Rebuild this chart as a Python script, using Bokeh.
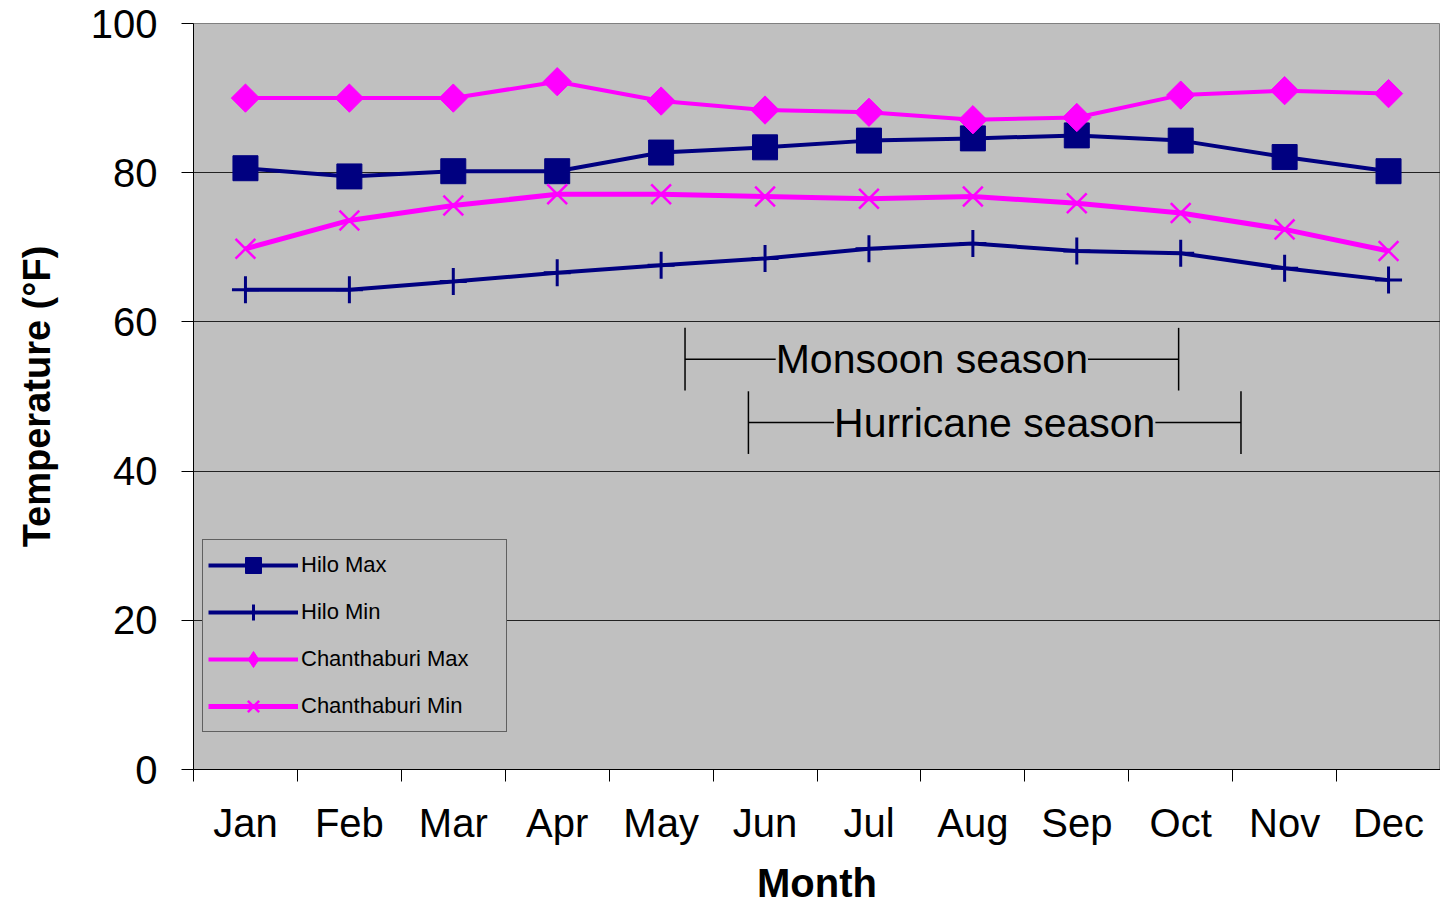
import numpy as np
from bokeh.plotting import figure
from bokeh.models import Range1d, FixedTicker, Legend, LegendItem, ColumnDataSource
from bokeh.core.properties import value
from bokeh.embed import file_html
from bokeh.resources import INLINE

months = ["Jan", "Feb", "Mar", "Apr", "May", "Jun", "Jul", "Aug", "Sep", "Oct", "Nov", "Dec"]
hilo_max = [80.6, 79.5, 80.2, 80.2, 82.7, 83.4, 84.3, 84.6, 85.0, 84.3, 82.1, 80.2]
hilo_min = [64.3, 64.3, 65.4, 66.6, 67.6, 68.5, 69.8, 70.5, 69.5, 69.2, 67.2, 65.6]
chan_max = [90.0, 90.0, 90.0, 92.2, 89.6, 88.4, 88.1, 87.1, 87.4, 90.4, 91.0, 90.6]
chan_min = [69.8, 73.6, 75.6, 77.1, 77.1, 76.8, 76.5, 76.8, 75.9, 74.6, 72.4, 69.5]

season_names = ["Monsoon season", "Hurricane season"]
season_start = [5.23, 5.84]
season_end = [9.98, 10.58]
season_level = [55.0, 46.5]

y_ticks = [0, 20, 40, 60, 80, 100]

FONT = "Liberation Sans"
NAVY = "#000080"
MAGENTA = "#FF00FF"
BG = "#C0C0C0"

x = list(range(1, len(months) + 1))

p = figure(width=1440, height=907, x_range=Range1d(0.5, 12.5), y_range=Range1d(0, 100),
           output_backend="svg", toolbar_location=None,
           min_border_left=193, min_border_right=0, min_border_top=23, min_border_bottom=138,
           background_fill_color=BG, border_fill_color="white",
           outline_line_color="#808080", outline_line_width=1)

# axes
p.xaxis.ticker = FixedTicker(ticks=x, minor_ticks=[0.5 + i for i in range(len(months) + 1)])
p.xaxis.major_label_overrides = {i: m for i, m in zip(x, months)}
p.xaxis.major_tick_out = 0
p.xaxis.major_tick_in = 0
p.xaxis.minor_tick_out = 12
p.xaxis.minor_tick_in = 0
p.xaxis.minor_tick_line_color = "black"
p.xaxis.axis_line_color = "black"
p.xaxis.major_label_standoff = 19
p.xaxis.major_label_text_font = FONT
p.xaxis.major_label_text_font_size = "40px"
p.xaxis.major_label_text_color = "black"
p.xaxis.axis_label = "Month"
p.xaxis.axis_label_text_font = FONT
p.xaxis.axis_label_text_font_style = "bold"
p.xaxis.axis_label_text_font_size = "40px"
p.xaxis.axis_label_text_color = "black"
p.xaxis.axis_label_standoff = 13

p.yaxis.ticker = FixedTicker(ticks=y_ticks, minor_ticks=[])
p.yaxis.major_tick_out = 12
p.yaxis.major_tick_in = 0
p.yaxis.major_tick_line_color = "black"
p.yaxis.axis_line_color = "black"
p.yaxis.major_label_standoff = 24
p.yaxis.major_label_text_font = FONT
p.yaxis.major_label_text_font_size = "40px"
p.yaxis.major_label_text_color = "black"
p.yaxis.axis_label = "Temperature (°F)"
p.yaxis.axis_label_text_font = FONT
p.yaxis.axis_label_text_font_style = "bold"
p.yaxis.axis_label_text_font_size = "38px"
p.yaxis.axis_label_text_color = "black"
p.yaxis.axis_label_standoff = 30

p.xgrid.grid_line_color = None
p.ygrid.ticker = FixedTicker(ticks=y_ticks)
p.ygrid.grid_line_color = "#222222"
p.ygrid.grid_line_width = 1

# season annotations
lvl = np.array(season_level)
half = 4.2
src = ColumnDataSource(dict(x0=season_start, x1=season_end, y=season_level,
                            lo=list(lvl - half), hi=list(lvl + half),
                            xm=[(a + b) / 2 for a, b in zip(season_start, season_end)],
                            name=season_names))
p.segment(x0="x0", y0="y", x1="x1", y1="y", source=src, line_color="black", line_width=1.5)
p.segment(x0="x0", y0="lo", x1="x0", y1="hi", source=src, line_color="black", line_width=1.5)
p.segment(x0="x1", y0="lo", x1="x1", y1="hi", source=src, line_color="black", line_width=1.5)
p.text(x="xm", y="y", text="name", source=src, text_font=value(FONT), text_font_size="41px",
       text_align="center", text_baseline="middle", text_color="black",
       background_fill_color=BG)

# series
l1 = p.line(x, hilo_max, line_color=NAVY, line_width=4)
s1 = p.scatter(x, hilo_max, marker="square", size=25, fill_color=NAVY, line_color=NAVY)
l2 = p.line(x, hilo_min, line_color=NAVY, line_width=4)
s2 = p.scatter(x, hilo_min, marker="cross", size=27, line_color=NAVY, line_width=3)
l3 = p.line(x, chan_max, line_color=MAGENTA, line_width=4)
s3 = p.scatter(x, chan_max, marker="square", angle=np.pi / 4, size=20, fill_color=MAGENTA, line_color=MAGENTA)
s3_key = p.scatter(x, chan_max, marker="diamond", size=20, fill_color=MAGENTA, line_color=MAGENTA, visible=False)
l4 = p.line(x, chan_min, line_color=MAGENTA, line_width=5)
s4 = p.scatter(x, chan_min, marker="x", size=28, line_color=MAGENTA, line_width=2.5)

legend = Legend(items=[
    LegendItem(label="Hilo Max", renderers=[l1, s1]),
    LegendItem(label="Hilo Min", renderers=[l2, s2]),
    LegendItem(label="Chanthaburi Max", renderers=[l3, s3_key]),
    LegendItem(label="Chanthaburi Min", renderers=[l4, s4]),
], location=(9, 37), margin=0, padding=5, spacing=7,
    glyph_width=90, glyph_height=40, label_height=40, label_width=200, label_standoff=3,
    label_text_font=FONT, label_text_font_size="22px", label_text_color="black",
    border_line_color="black", border_line_width=1,
    background_fill_color=BG, background_fill_alpha=1.0)
p.add_layout(legend)

open("out.html", "w").write(file_html(p, INLINE))
